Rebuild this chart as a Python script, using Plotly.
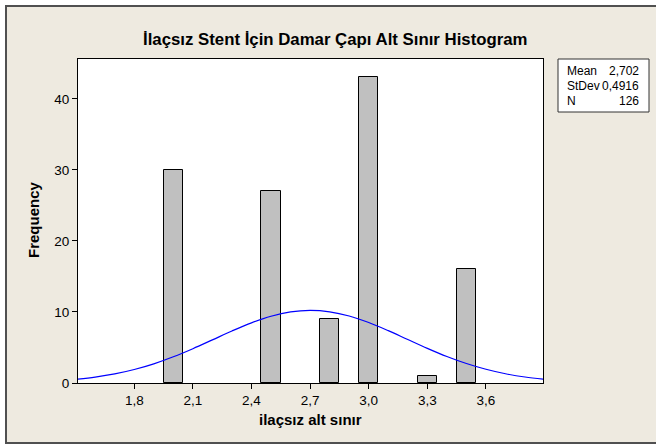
import plotly.graph_objects as go

# ---- data ----
bin_centers = [2.0, 2.5, 2.8, 3.0, 3.3, 3.5]
counts = [30, 27, 9, 43, 1, 16]
bin_width = 0.1

curve_x = [1.5, 1.6, 1.7, 1.8, 1.9, 2.0, 2.1, 2.2, 2.3, 2.4, 2.5, 2.6, 2.7,
           2.8, 2.9, 3.0, 3.1, 3.2, 3.3, 3.4, 3.5, 3.6, 3.7, 3.8, 3.9]
curve_y = [0.51, 0.83, 1.28, 1.90, 2.70, 3.69, 4.83, 6.07, 7.32, 8.47, 9.40, 10.01, 10.22,
           10.02, 9.43, 8.51, 7.37, 6.12, 4.88, 3.73, 2.74, 1.93, 1.30, 0.84, 0.52]

x_tickvals = [1.8, 2.1, 2.4, 2.7, 3.0, 3.3, 3.6]
x_ticktext = ["1,8", "2,1", "2,4", "2,7", "3,0", "3,3", "3,6"]
y_tickvals = [0, 10, 20, 30, 40]
y_ticktext = ["0", "10", "20", "30", "40"]

stat_labels = ["Mean", "StDev", "N"]
stat_values = ["2,702", "0,4916", "126"]

title_text = "İlaçsız Stent İçin Damar Çapı Alt Sınır Histogram"
x_title = "ilaçsız alt sınır"
y_title = "Frequency"

# ---- layout geometry (pixels) ----
W, H = 656, 446
L, R, T, B = 78, 543, 59, 383
pw, ph = R - L, B - T


def px(xp):
    return (xp - L) / pw


def py(yp):
    return (B - yp) / ph


FONT = "Liberation Sans, Arial, sans-serif"
BEIGE = "#EEEAE0"

fig = go.Figure()

fig.add_trace(go.Bar(
    x=bin_centers, y=counts, width=[bin_width] * len(counts),
    marker=dict(color="#C0C0C0", line=dict(color="black", width=1)),
    showlegend=False, hoverinfo="skip"))

fig.add_trace(go.Scatter(
    x=curve_x, y=curve_y, mode="lines",
    line=dict(color="#0000FF", width=1.2, shape="spline"),
    showlegend=False, hoverinfo="skip"))

shapes = [
    # beige outer frame
    dict(type="rect", xref="paper", yref="paper", layer="below",
         x0=px(6), x1=px(W + 10), y0=py(443), y1=py(6),
         fillcolor=BEIGE, line=dict(color="#505050", width=2)),
    # white plotting area
    dict(type="rect", xref="paper", yref="paper", layer="below",
         x0=0, x1=1, y0=0, y1=1, fillcolor="white", line=dict(width=0)),
    # stats box
    dict(type="rect", xref="paper", yref="paper",
         x0=px(558), x1=px(649), y0=py(112), y1=py(59),
         fillcolor="white", line=dict(color="#333333", width=1)),
]

annotations = [
    dict(text=f"<b>{title_text}</b>", xref="paper", yref="paper",
         x=px(335), y=py(40), xanchor="center", yanchor="middle",
         showarrow=False, font=dict(family=FONT, size=16.8, color="black")),
    dict(text=f"<b>{x_title}</b>", xref="paper", yref="paper",
         x=px(310), y=py(419), xanchor="center", yanchor="middle",
         showarrow=False, font=dict(family=FONT, size=15, color="black")),
    dict(text=f"<b>{y_title}</b>", xref="paper", yref="paper",
         x=px(33), y=py(220), xanchor="center", yanchor="middle", textangle=-90,
         showarrow=False, font=dict(family=FONT, size=15, color="black")),
]

row_y = [71, 86, 101]
for lab, val, ry in zip(stat_labels, stat_values, row_y):
    annotations.append(dict(text=lab, xref="paper", yref="paper",
                            x=px(565), y=py(ry), xanchor="left", yanchor="middle",
                            showarrow=False, font=dict(family=FONT, size=12, color="black")))
    annotations.append(dict(text=val, xref="paper", yref="paper",
                            x=px(641), y=py(ry), xanchor="right", yanchor="middle",
                            showarrow=False, font=dict(family=FONT, size=12, color="black")))

fig.update_layout(
    width=W, height=H,
    margin=dict(l=L, r=W - R, t=T, b=H - B, pad=0),
    paper_bgcolor="white", plot_bgcolor="rgba(0,0,0,0)",
    bargap=0, barmode="overlay",
    shapes=shapes, annotations=annotations,
    font=dict(family=FONT, color="black"),
    xaxis=dict(range=[1.512, 3.892], tickvals=x_tickvals, ticktext=x_ticktext,
               ticks="outside", ticklen=5, tickcolor="black", tickwidth=1,
               showline=True, linecolor="black", linewidth=1, mirror=True,
               showgrid=False, zeroline=False, fixedrange=True,
               tickfont=dict(family=FONT, size=13.5, color="black")),
    yaxis=dict(range=[0, 45.6], tickvals=y_tickvals, ticktext=y_ticktext,
               ticks="outside", ticklen=5, tickcolor="black", tickwidth=1,
               showline=True, linecolor="black", linewidth=1, mirror=True,
               showgrid=False, zeroline=False, fixedrange=True,
               tickfont=dict(family=FONT, size=13.5, color="black")),
)

fig.write_html("out.html", config={"displayModeBar": False},
               post_script="document.body.style.margin='0px';document.body.style.overflow='hidden';")
